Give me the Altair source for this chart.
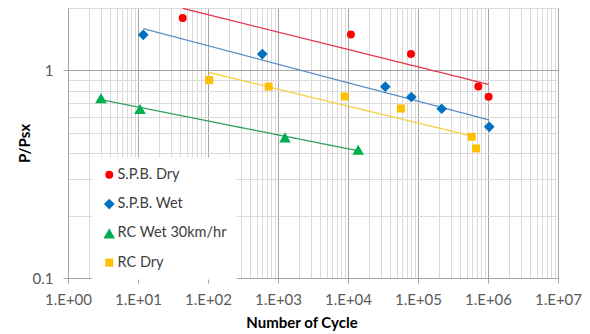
import altair as alt
import pandas as pd

# Fatigue test results: number of load cycles vs. load ratio P/Psx
series_names = ["S.P.B. Dry", "S.P.B. Wet", "RC Wet 30km/hr", "RC Dry"]

spb_dry_cycles = [43.5, 11000, 79400, 727000, 1020000]
spb_dry_ratio = [1.79, 1.49, 1.20, 0.837, 0.747]

spb_wet_cycles = [11.9, 597, 34100, 80300, 218000, 1040000]
spb_wet_ratio = [1.486, 1.20, 0.835, 0.745, 0.654, 0.535]

rc_wet_cycles = [2.96, 10.7, 1260, 14000]
rc_wet_ratio = [0.736, 0.652, 0.476, 0.415]

rc_dry_cycles = [104, 736, 8970, 57100, 585000, 674000]
rc_dry_ratio = [0.899, 0.837, 0.749, 0.656, 0.479, 0.421]

marker_colors = ["#FF0000", "#0070C0", "#00B050", "#FFC000"]
line_colors = ["#E8364F", "#5A8FC5", "#33A060", "#F5D042"]
marker_shapes = ["circle", "diamond", "triangle-up", "square"]
marker_sizes = [64, 115, 135, 64]

rows = []
for name, xs, ys in zip(
    series_names,
    [spb_dry_cycles, spb_wet_cycles, rc_wet_cycles, rc_dry_cycles],
    [spb_dry_ratio, spb_wet_ratio, rc_wet_ratio, rc_dry_ratio],
):
    for n, p in zip(xs, ys):
        rows.append({"series": name, "cycles": n, "ratio": p})
df = pd.DataFrame(rows)

# Log-scale grid: every integer multiple within each decade
x_grid = [m * 10**k for k in range(7) for m in range(1, 10)] + [10**7]
y_grid = [round(m * 0.1, 1) for m in range(1, 10)] + [1, 2]

major = "abs(log(datum.value)/LN10 - round(log(datum.value)/LN10)) < 1e-6"
grid_color = {"condition": {"test": major, "value": "#A6A6A6"}, "value": "#DADADA"}
tick_opacity = {"condition": {"test": major, "value": 1}, "value": 0}

x_scale = alt.Scale(type="log", domain=[1, 10**7], nice=False)
y_scale = alt.Scale(type="log", domain=[0.1, 2], nice=False)

x_axis = alt.Axis(
    values=x_grid,
    title="Number of Cycle",
    labelExpr=f"({major}) ? '1.E+0' + round(log(datum.value)/LN10) : ''",
    gridColor=grid_color,
    tickOpacity=tick_opacity,
    labelOverlap=False,
    labelFlush=False,
    labelBound=False,
    labelPadding=9,
    titleX=233.5,
    titleY=44,
    titleBaseline="middle",
)
y_axis = alt.Axis(
    values=y_grid,
    title="P/Psx",
    labelExpr=f"({major}) ? toString(datum.value) : ''",
    gridColor=grid_color,
    tickOpacity=tick_opacity,
    labelOverlap=False,
    labelBound=False,
    labelPadding=10,
    titlePadding=0,
)

legend = alt.Legend(
    title=None,
    orient="none",
    legendX=24,
    legendY=149.5,
    fillColor="white",
    padding=10,
    rowPadding=14.3,
    labelFont="Lato",
    labelFontSize=14.5,
    labelColor="#404040",
    labelOffset=1,
    symbolStrokeWidth=0,
)

base = alt.Chart(df)
x_enc = alt.X("cycles:Q", scale=x_scale, axis=x_axis)
y_enc = alt.Y("ratio:Q", scale=y_scale, axis=y_axis)

# Power-law trend line for each series, fitted in log-log space
trends = [
    base.transform_filter(alt.datum.series == name)
    .transform_regression("cycles", "ratio", method="pow")
    .mark_line(color=col, strokeWidth=1.3, clip=True)
    .encode(x=x_enc, y=y_enc)
    for name, col in zip(series_names, line_colors)
]

points = base.mark_point(filled=True, opacity=1, strokeWidth=0).encode(
    x=x_enc,
    y=y_enc,
    color=alt.Color(
        "series:N", scale=alt.Scale(domain=series_names, range=marker_colors), legend=legend
    ),
    shape=alt.Shape(
        "series:N", scale=alt.Scale(domain=series_names, range=marker_shapes), legend=legend
    ),
    size=alt.Size(
        "series:N",
        scale=alt.Scale(type="ordinal", domain=series_names, range=marker_sizes),
        legend=legend,
    ),
)

chart = (
    alt.layer(*trends, points)
    .properties(
        width=490,
        height=270,
        autosize=alt.AutoSizeParams(type="none"),
        padding={"left": 68, "top": 8, "right": 32, "bottom": 56},
        background="white",
    )
    .configure_view(stroke="#BFBFBF", strokeWidth=1)
    .configure_axis(
        labelFont="Lato",
        labelFontSize=15,
        labelColor="#595959",
        titleFont="Lato",
        titleFontSize=15,
        titleFontWeight="bold",
        titleColor="#000000",
        domainColor="#A6A6A6",
        tickColor="#A6A6A6",
        tickSize=5,
        gridWidth=1,
    )
)

chart.save("out.html", embed_options={"renderer": "svg", "actions": False})
